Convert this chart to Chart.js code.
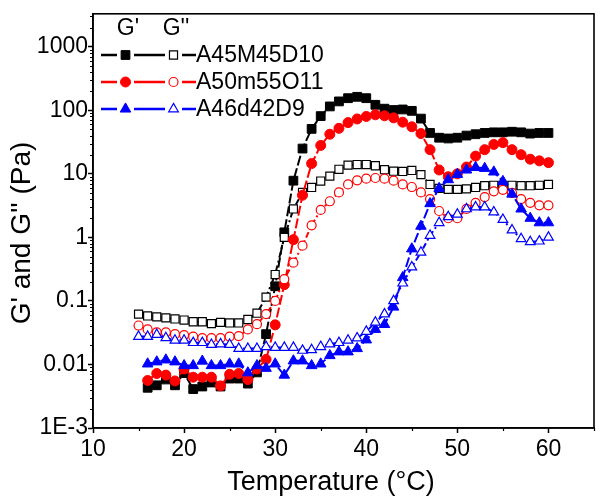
<!DOCTYPE html>
<html>
<head>
<meta charset="utf-8">
<script src="https://cdn.jsdelivr.net/npm/chart.js@4.4.1/dist/chart.umd.min.js"></script>
<style>
  html, body { margin: 0; padding: 0; background: #fff; }
  #wrap { width: 603px; height: 501px; }
</style>
</head>
<body>
<div id="wrap"><canvas id="rheoChart" width="603" height="501"></canvas></div>
<script>
// --- Data ---
// G' series start at 16 °C, G'' series at 15 °C
const tempsGp = [16, 17, 18, 19, 20, 21, 22, 23, 24, 25, 26, 27, 28, 29, 30, 31, 32, 33, 34, 35, 36, 37, 38,
  39, 40, 41, 42, 43, 44, 45, 46, 47, 48, 49, 50, 51, 52, 53, 54, 55, 56, 57, 58, 59, 60];
const tempsGpp = [15, 16, 17, 18, 19, 20, 21, 22, 23, 24, 25, 26, 27, 28, 29, 30, 31, 32, 33, 34, 35, 36, 37, 38,
  39, 40, 41, 42, 43, 44, 45, 46, 47, 48, 49, 50, 51, 52, 53, 54, 55, 56, 57, 58, 59, 60];

const gp_A45M45D10 = [0.0043, 0.0047, 0.0058, 0.0047, 0.0073, 0.0041, 0.0045, 0.0052, 0.0045, 0.006, 0.006, 0.005,
  0.0075, 0.03, 0.17, 1.2, 7.8, 25, 51, 81, 115, 138, 155, 163, 155, 122, 106, 101, 103, 98, 74, 44, 37, 36, 37,
  40, 42, 44, 45, 45, 46, 45, 43, 44, 44];
const gpp_A45M45D10 = [0.062, 0.058, 0.056, 0.054, 0.052, 0.05, 0.047, 0.047, 0.044, 0.046, 0.045, 0.045, 0.051,
  0.064, 0.115, 0.26, 1.0, 2.8, 5.1, 6.1, 7.7, 9.2, 11.8, 13.7, 14, 14, 13.4, 11.6, 11, 10.9, 11.3, 9.7, 6.8, 5.9,
  5.7, 5.7, 5.8, 6.1, 6.5, 6.6, 6.6, 6.6, 6.5, 6.5, 6.6, 6.8];
const gp_A50m55O11 = [0.0056, 0.0072, 0.0068, 0.0055, 0.0085, 0.0063, 0.0063, 0.0063, 0.0046, 0.007, 0.0072,
  0.0058, 0.0085, 0.012, 0.042, 0.18, 0.92, 4.6, 14.5, 28, 42, 52, 64, 73, 80, 85, 82, 76, 65, 55, 43, 24, 11.5,
  9, 10, 12.8, 19, 24, 29, 31, 24, 20, 17, 16, 15];
const gpp_A50m55O11 = [0.041, 0.0356, 0.032, 0.032, 0.03, 0.029, 0.0275, 0.026, 0.026, 0.026, 0.0275, 0.028,
  0.0356, 0.043, 0.062, 0.1, 0.22, 0.4, 0.74, 1.55, 2.7, 3.7, 5.1, 6.8, 7.9, 8.4, 8.6, 8.4, 7.8, 6.8, 6.2, 5.1,
  4.0, 2.6, 2.0, 2.0, 2.8, 3.5, 4.3, 5.3, 5.6, 5.0, 4.0, 3.5, 3.2, 3.2];
const gp_A46d42D9 = [0.0102, 0.011, 0.0118, 0.011, 0.0096, 0.0096, 0.0113, 0.0096, 0.0096, 0.0102, 0.0102,
  0.0074, 0.0096, 0.0087, 0.0102, 0.0068, 0.0114, 0.0114, 0.0096, 0.0102, 0.0138, 0.0158, 0.0158, 0.0178, 0.0244,
  0.0357, 0.0426, 0.08, 0.233, 0.66, 1.5, 3.4, 5.9, 8.1, 9.8, 11.5, 12.6, 12.2, 10.7, 7.6, 4.8, 2.8, 2.0, 1.7, 1.7];
const gpp_A46d42D9 = [0.0275, 0.0275, 0.0295, 0.0262, 0.024, 0.024, 0.022, 0.022, 0.0205, 0.021, 0.0205, 0.0178,
  0.0178, 0.0178, 0.019, 0.0185, 0.0185, 0.0185, 0.0166, 0.017, 0.019, 0.021, 0.022, 0.024, 0.026, 0.033, 0.046,
  0.062, 0.1, 0.19, 0.34, 0.58, 1.07, 1.7, 2.1, 2.3, 2.8, 3.0, 3.0, 2.5, 1.9, 1.3, 0.95, 0.85, 0.87, 1.0];

const sampleNames = ["A45M45D10", "A50m55O11", "A46d42D9"];
const sampleColors = ["#000000", "#ff0000", "#0000ff"];
const sampleMarkers = ["rect", "circle", "triangle"];
const yMajorTicks = [0.001, 0.01, 0.1, 1, 10, 100, 1000];
const xMajorTicks = [10, 20, 30, 40, 50, 60];

const FONT = "'Liberation Sans', Arial, sans-serif";
const markerRadius = { rect: 6.2, circle: 5, triangle: 6.1 };

// --- helpers ---
const toPoints = (xs, ys) => ys.map((v, i) => ({ x: xs[i], y: v }));

const makeSeries = (idx, temps, values, open) => {
  const color = sampleColors[idx];
  const style = sampleMarkers[idx];
  return {
    label: sampleNames[idx] + (open ? " G''" : " G'"),
    data: toPoints(temps, values),
    borderColor: color,
    borderWidth: 2,
    borderDash: open ? [6, 3, 2, 3] : [10, 3],
    pointStyle: style,
    pointRadius: open ? markerRadius[style] - 0.5 : markerRadius[style],
    pointBorderColor: color,
    pointBackgroundColor: open ? "#ffffff" : color,
    pointBorderWidth: open ? 1.2 : 1,
    tension: 0,
    order: 10 - idx * 2 - (open ? 1 : 0),
  };
};

// own marker drawing for the legend block
const drawMarker = (ctx, style, x, y, r, color, open) => {
  ctx.save();
  ctx.fillStyle = open ? "#ffffff" : color;
  ctx.strokeStyle = color;
  ctx.lineWidth = open ? 1.2 : 1;
  ctx.beginPath();
  if (style === "rect") {
    const s = r * Math.SQRT1_2;
    ctx.rect(x - s, y - s, 2 * s, 2 * s);
  } else if (style === "circle") {
    ctx.arc(x, y, r, 0, Math.PI * 2);
  } else {
    const h = r * 0.866;
    ctx.moveTo(x, y - r);
    ctx.lineTo(x + h, y + r / 2);
    ctx.lineTo(x - h, y + r / 2);
    ctx.closePath();
  }
  ctx.fill();
  ctx.stroke();
  ctx.restore();
};

// --- Frame, minor ticks, axis titles and legend block ---
const decorations = {
  id: "decorations",
  afterDraw(chart) {
    const { ctx, chartArea: a, scales } = chart;
    const y = scales.y;
    const x = scales.x;
    ctx.save();
    ctx.strokeStyle = "#000";
    ctx.lineWidth = 1.6;
    ctx.strokeRect(a.left, a.top, a.right - a.left, a.bottom - a.top);

    // minor ticks
    ctx.lineWidth = 1.2;
    ctx.beginPath();
    for (let d = -3; d <= 3; d++) {
      for (let m = 2; m <= 9; m++) {
        const v = m * Math.pow(10, d);
        if (v > y.max) break;
        const py = Math.round(y.getPixelForValue(v)) + 0.5;
        ctx.moveTo(a.left - 3, py);
        ctx.lineTo(a.left, py);
      }
    }
    [15, 25, 35, 45, 55, 65].forEach((v) => {
      const px = Math.round(x.getPixelForValue(v)) + 0.5;
      ctx.moveTo(px, a.bottom);
      ctx.lineTo(px, a.bottom + 3);
    });
    ctx.stroke();

    // axis titles
    ctx.fillStyle = "#000";
    ctx.textAlign = "center";
    ctx.textBaseline = "middle";
    ctx.font = "27px " + FONT;
    ctx.fillText("Temperature (°C)", 331, 483);
    ctx.font = "28px " + FONT;
    ctx.translate(22, 233);
    ctx.rotate(-Math.PI / 2);
    ctx.fillText("G' and G'' (Pa)", 0, 0);
    ctx.restore();

    // legend block
    ctx.save();
    ctx.font = "23px " + FONT;
    ctx.fillStyle = "#000";
    ctx.textBaseline = "middle";
    ctx.textAlign = "center";
    ctx.fillText("G'", 128, 29);
    ctx.fillText("G''", 176, 29);
    ctx.textAlign = "left";
    sampleNames.forEach((name, i) => {
      const ly = 55 + i * 27;
      const color = sampleColors[i];
      const style = sampleMarkers[i];
      ctx.strokeStyle = color;
      ctx.lineWidth = 2.5;
      ctx.beginPath();
      ctx.moveTo(101, ly); ctx.lineTo(117, ly);
      ctx.moveTo(134, ly); ctx.lineTo(165, ly);
      ctx.moveTo(182, ly); ctx.lineTo(196, ly);
      ctx.stroke();
      drawMarker(ctx, style, 125.5, ly, markerRadius[style], color, false);
      drawMarker(ctx, style, 173.5, ly, markerRadius[style] - 0.5, color, true);
      ctx.fillStyle = "#000";
      ctx.fillText(name, 196, ly + 1);
    });
    ctx.restore();
  },
};

// --- Chart ---
const ctx = document.getElementById("rheoChart").getContext("2d");
new Chart(ctx, {
  type: "line",
  data: {
    datasets: [
      makeSeries(0, tempsGp, gp_A45M45D10, false),
      makeSeries(0, tempsGpp, gpp_A45M45D10, true),
      makeSeries(1, tempsGp, gp_A50m55O11, false),
      makeSeries(1, tempsGpp, gpp_A50m55O11, true),
      makeSeries(2, tempsGp, gp_A46d42D9, false),
      makeSeries(2, tempsGpp, gpp_A46d42D9, true),
    ],
  },
  options: {
    responsive: false,
    animation: false,
    devicePixelRatio: 1,
    layout: { padding: { left: 0, right: 9, top: 10, bottom: 0 } },
    plugins: {
      legend: { display: false },
      tooltip: { enabled: false },
    },
    scales: {
      x: {
        type: "linear",
        min: 10,
        max: 65,
        afterBuildTicks: (scale) => {
          scale.ticks = xMajorTicks.map((v) => ({ value: v }));
        },
        afterFit: (scale) => {
          scale.height = 73;
        },
        grid: { display: true, drawOnChartArea: false, tickLength: 5, tickWidth: 1.5, tickColor: "#000" },
        border: { display: true, color: "#000", width: 1.6 },
        ticks: { color: "#000", font: { family: FONT, size: 23 }, padding: 3, maxRotation: 0, autoSkip: false },
        title: { display: false },
      },
      y: {
        type: "logarithmic",
        min: 0.001,
        max: 3300,
        afterBuildTicks: (scale) => {
          scale.ticks = yMajorTicks.map((v) => ({ value: v }));
        },
        afterFit: (scale) => {
          scale.width = 93;
        },
        grid: { display: true, drawOnChartArea: false, tickLength: 5, tickWidth: 1.5, tickColor: "#000" },
        border: { display: true, color: "#000", width: 1.6 },
        ticks: {
          color: "#000",
          font: { family: FONT, size: 23 },
          padding: 0,
          autoSkip: false,
          callback: (value) => (value === 0.001 ? "1E-3" : String(value)),
        },
        title: { display: false },
      },
    },
  },
  plugins: [decorations],
});
</script>
</body>
</html>
